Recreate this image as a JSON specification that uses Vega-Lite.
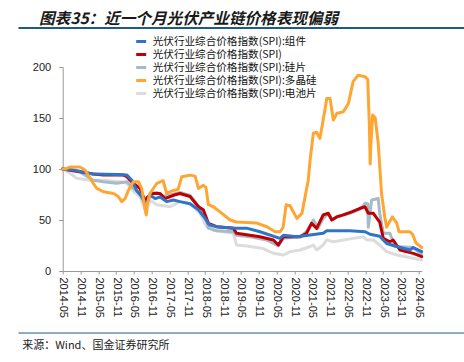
{
"$schema": "https://vega.github.io/schema/vega-lite/v6.json",
"width": 359, "height": 204,
"autosize": {"type": "none"},
"padding": {"left": 62.7, "top": 67, "right": 42.3, "bottom": 91},
"background": "white",
"config": {"view": {"stroke": null}},
"title": {"text": "图表35：近一个月光伏产业链价格表现偏弱", "anchor": "start", "frame": "group", "font": "Noto Sans CJK SC", "fontSize": 15.6, "fontStyle": "italic", "fontWeight": "bold", "color": "#1a1a1a", "dx": -23.7, "dy": 13, "offset": 0, "baseline": "alphabetic"},
"datasets": {
"zj": [
{"t":"2014-05-01","v":100},{"t":"2014-08-19","v":99},{"t":"2015-03-10","v":95},{"t":"2015-11-07","v":94.5},{"t":"2016-02-19","v":94},{"t":"2016-04-10","v":89},{"t":"2016-05-28","v":79},{"t":"2016-07-19","v":73},{"t":"2016-09-04","v":65},{"t":"2016-10-13","v":74.5},{"t":"2016-12-04","v":71},{"t":"2017-01-25","v":72.6},{"t":"2017-04-01","v":68},{"t":"2017-06-10","v":69.6},{"t":"2017-08-16","v":68},{"t":"2017-11-28","v":66},{"t":"2018-02-22","v":60},{"t":"2018-05-01","v":51.6},{"t":"2018-06-19","v":45},{"t":"2018-08-28","v":43.4},{"t":"2019-03-04","v":42},{"t":"2019-07-01","v":42},{"t":"2019-11-16","v":38.5},{"t":"2020-06-07","v":32},{"t":"2020-07-13","v":35},{"t":"2020-11-28","v":33.6},{"t":"2021-03-25","v":35},{"t":"2021-08-25","v":37},{"t":"2021-10-01","v":39.5},{"t":"2022-05-25","v":39.5},{"t":"2022-10-28","v":38.5},{"t":"2022-12-19","v":36},{"t":"2023-03-28","v":34},{"t":"2023-06-07","v":27},{"t":"2023-09-19","v":24},{"t":"2024-02-01","v":20.6},{"t":"2024-03-07","v":23},{"t":"2024-06-01","v":19}],
"spi": [
{"t":"2014-05-01","v":100},{"t":"2014-10-25","v":97.4},{"t":"2015-03-10","v":95},{"t":"2015-06-22","v":94},{"t":"2016-01-13","v":94},{"t":"2016-02-19","v":92.5},{"t":"2016-03-22","v":89},{"t":"2016-04-25","v":86},{"t":"2016-07-01","v":81},{"t":"2016-09-04","v":66},{"t":"2016-09-13","v":72},{"t":"2016-11-01","v":76},{"t":"2017-01-25","v":76},{"t":"2017-03-16","v":71},{"t":"2017-06-19","v":74.5},{"t":"2017-08-16","v":76},{"t":"2017-11-28","v":73},{"t":"2018-02-22","v":63},{"t":"2018-04-13","v":60},{"t":"2018-06-04","v":46.7},{"t":"2018-08-28","v":43.4},{"t":"2019-02-16","v":41.8},{"t":"2019-03-19","v":37},{"t":"2019-11-16","v":33.6},{"t":"2020-04-01","v":30.4},{"t":"2020-05-22","v":25.5},{"t":"2020-07-13","v":33.6},{"t":"2021-01-01","v":33.6},{"t":"2021-03-07","v":37},{"t":"2021-04-28","v":46.7},{"t":"2021-06-19","v":41.8},{"t":"2021-08-25","v":55},{"t":"2021-10-16","v":56.6},{"t":"2021-11-22","v":50},{"t":"2022-01-10","v":53},{"t":"2022-03-19","v":55},{"t":"2022-06-13","v":58},{"t":"2022-09-07","v":61.5},{"t":"2022-10-28","v":63},{"t":"2022-12-01","v":56.6},{"t":"2023-01-22","v":56.6},{"t":"2023-03-28","v":48},{"t":"2023-05-04","v":32},{"t":"2023-07-10","v":28.7},{"t":"2023-08-13","v":30.4},{"t":"2023-10-22","v":20.6},{"t":"2024-03-07","v":17.3},{"t":"2024-06-01","v":14}],
"gp": [
{"t":"2014-05-01","v":100},{"t":"2014-10-25","v":97},{"t":"2015-03-10","v":89},{"t":"2015-06-22","v":87.5},{"t":"2015-11-07","v":86},{"t":"2016-02-19","v":87.5},{"t":"2016-04-25","v":81},{"t":"2016-07-01","v":76},{"t":"2016-09-04","v":63},{"t":"2016-10-13","v":76},{"t":"2016-12-22","v":77},{"t":"2017-02-28","v":73},{"t":"2017-05-07","v":74.5},{"t":"2017-08-16","v":77},{"t":"2017-11-28","v":74},{"t":"2018-03-10","v":61.5},{"t":"2018-05-01","v":53},{"t":"2018-06-04","v":42},{"t":"2018-08-28","v":39.5},{"t":"2019-02-16","v":38.5},{"t":"2019-03-19","v":35},{"t":"2019-08-04","v":33.6},{"t":"2020-01-25","v":30.4},{"t":"2020-05-22","v":24.5},{"t":"2020-07-13","v":32},{"t":"2021-01-01","v":33.6},{"t":"2021-03-07","v":38.5},{"t":"2021-05-16","v":50},{"t":"2021-07-04","v":42},{"t":"2021-08-25","v":51.6},{"t":"2021-10-16","v":56.6},{"t":"2021-11-22","v":50},{"t":"2022-01-10","v":53},{"t":"2022-05-25","v":56.6},{"t":"2022-09-25","v":61.5},{"t":"2022-10-28","v":66.4},{"t":"2022-11-25","v":66},{"t":"2022-12-01","v":43},{"t":"2023-01-04","v":69.6},{"t":"2023-03-13","v":71},{"t":"2023-03-28","v":56.6},{"t":"2023-05-04","v":37},{"t":"2023-07-10","v":37},{"t":"2023-09-01","v":24},{"t":"2024-03-07","v":23},{"t":"2024-06-01","v":16}],
"dj": [
{"t":"2014-05-01","v":100},{"t":"2014-06-01","v":100},{"t":"2014-07-15","v":102},{"t":"2014-10-25","v":102},{"t":"2014-12-16","v":99},{"t":"2015-03-10","v":86},{"t":"2015-04-16","v":81},{"t":"2015-06-22","v":77.7},{"t":"2015-10-04","v":76},{"t":"2015-11-22","v":73},{"t":"2015-12-28","v":68},{"t":"2016-02-01","v":71},{"t":"2016-03-04","v":79},{"t":"2016-04-25","v":87.5},{"t":"2016-06-16","v":87.5},{"t":"2016-07-19","v":81},{"t":"2016-08-07","v":70},{"t":"2016-09-04","v":55},{"t":"2016-09-13","v":65},{"t":"2016-10-13","v":76},{"t":"2016-12-22","v":86},{"t":"2017-02-25","v":88.5},{"t":"2017-04-01","v":76},{"t":"2017-06-10","v":79},{"t":"2017-07-28","v":80},{"t":"2017-09-04","v":92.5},{"t":"2017-11-28","v":94},{"t":"2018-01-19","v":93},{"t":"2018-02-22","v":81},{"t":"2018-04-13","v":84},{"t":"2018-05-10","v":82},{"t":"2018-06-04","v":65},{"t":"2018-07-25","v":63},{"t":"2018-10-01","v":58},{"t":"2019-01-13","v":50},{"t":"2019-03-19","v":48},{"t":"2019-10-13","v":47},{"t":"2020-01-25","v":43.4},{"t":"2020-04-19","v":38.5},{"t":"2020-06-10","v":38.5},{"t":"2020-07-10","v":43},{"t":"2020-08-10","v":65},{"t":"2020-09-19","v":64},{"t":"2020-11-28","v":51.6},{"t":"2021-01-19","v":56.5},{"t":"2021-03-25","v":89},{"t":"2021-04-13","v":109},{"t":"2021-05-16","v":135},{"t":"2021-06-19","v":136},{"t":"2021-07-22","v":130},{"t":"2021-08-25","v":148},{"t":"2021-10-01","v":169},{"t":"2021-11-04","v":169},{"t":"2021-12-07","v":148},{"t":"2022-01-13","v":154.6},{"t":"2022-03-19","v":156},{"t":"2022-05-10","v":164},{"t":"2022-06-28","v":185.6},{"t":"2022-08-19","v":192},{"t":"2022-10-28","v":190.5},{"t":"2022-11-25","v":188},{"t":"2022-12-13","v":140},{"t":"2022-12-20","v":105},{"t":"2022-12-28","v":125},{"t":"2023-01-15","v":153},{"t":"2023-02-10","v":150},{"t":"2023-03-13","v":125},{"t":"2023-04-16","v":76},{"t":"2023-05-19","v":53},{"t":"2023-06-07","v":43},{"t":"2023-06-25","v":46},{"t":"2023-08-05","v":53},{"t":"2023-09-19","v":47},{"t":"2023-10-12","v":38.5},{"t":"2024-02-01","v":38.5},{"t":"2024-02-28","v":36},{"t":"2024-04-03","v":27.5},{"t":"2024-06-01","v":23}],
"dc": [
{"t":"2014-05-01","v":100},{"t":"2014-07-16","v":95.8},{"t":"2014-09-22","v":91},{"t":"2015-02-07","v":89},{"t":"2015-06-22","v":89},{"t":"2015-12-10","v":87.5},{"t":"2016-02-19","v":86},{"t":"2016-04-25","v":78},{"t":"2016-07-01","v":73},{"t":"2016-09-04","v":56.6},{"t":"2016-10-13","v":69.6},{"t":"2016-12-22","v":65},{"t":"2017-05-07","v":63},{"t":"2017-08-16","v":68},{"t":"2017-11-28","v":66},{"t":"2018-03-10","v":56.6},{"t":"2018-05-16","v":43.5},{"t":"2018-07-25","v":40},{"t":"2019-02-16","v":37},{"t":"2019-03-19","v":25.5},{"t":"2019-07-01","v":24.5},{"t":"2019-12-19","v":22},{"t":"2020-04-01","v":17.4},{"t":"2020-07-13","v":15.7},{"t":"2020-09-19","v":19},{"t":"2021-01-01","v":20.6},{"t":"2021-04-13","v":24},{"t":"2021-05-16","v":25.5},{"t":"2021-06-19","v":20.6},{"t":"2021-08-25","v":25.5},{"t":"2021-10-01","v":30.4},{"t":"2021-12-07","v":28.7},{"t":"2022-06-28","v":32},{"t":"2022-10-10","v":33.6},{"t":"2022-11-16","v":30.4},{"t":"2023-01-22","v":30.4},{"t":"2023-03-28","v":25.5},{"t":"2023-06-07","v":19},{"t":"2023-09-19","v":15.7},{"t":"2024-06-01","v":10.8}],
"deco": [
{"a":"2013-02-01","b":"2025-08-10","y":238.2,"k":"top"},
{"a":"2013-02-01","b":"2025-08-10","y":-60.8,"k":"bottom"}]
},
"encoding": {
"x": {"field": "t", "type": "temporal",
 "scale": {"type": "utc", "domain": [{"year":2014,"month":5,"date":1,"utc":true},{"year":2024,"month":6,"date":1,"utc":true}]},
 "axis": {"values": [
  {"year":2014,"month":5,"date":1,"utc":true},{"year":2014,"month":11,"date":1,"utc":true},
  {"year":2015,"month":5,"date":1,"utc":true},{"year":2015,"month":11,"date":1,"utc":true},
  {"year":2016,"month":5,"date":1,"utc":true},{"year":2016,"month":11,"date":1,"utc":true},
  {"year":2017,"month":5,"date":1,"utc":true},{"year":2017,"month":11,"date":1,"utc":true},
  {"year":2018,"month":5,"date":1,"utc":true},{"year":2018,"month":11,"date":1,"utc":true},
  {"year":2019,"month":5,"date":1,"utc":true},{"year":2019,"month":11,"date":1,"utc":true},
  {"year":2020,"month":5,"date":1,"utc":true},{"year":2020,"month":11,"date":1,"utc":true},
  {"year":2021,"month":5,"date":1,"utc":true},{"year":2021,"month":11,"date":1,"utc":true},
  {"year":2022,"month":5,"date":1,"utc":true},{"year":2022,"month":11,"date":1,"utc":true},
  {"year":2023,"month":5,"date":1,"utc":true},{"year":2023,"month":11,"date":1,"utc":true},
  {"year":2024,"month":5,"date":1,"utc":true}],
  "labelExpr": "utcFormat(datum.value, '%Y-%m')", "labelAngle": 90, "labelAlign": "left", "labelBaseline": "middle",
  "labelFont": "Liberation Sans", "labelFontSize": 11, "labelColor": "#222", "labelPadding": 3, "labelOverlap": false,
  "tickSize": 3, "tickColor": "#999", "domainColor": "#999", "grid": false,
  "titleFont": "Noto Sans CJK SC", "titleFontSize": 11, "titleFontWeight": "normal", "titleColor": "#222",
  "titleAnchor": "start", "titleAlign": "left", "titleBaseline": "middle", "titleX": -41, "titleY": 74},
 "title": "来源：Wind、国金证券研究所"},
"y": {"field": "v", "type": "quantitative",
 "scale": {"domain": [0, 200], "nice": false},
 "axis": {"values": [0, 50, 100, 150, 200], "grid": false, "title": null, "labelFont": "Liberation Sans", "labelFontSize": 11, "labelColor": "#222", "labelPadding": 8, "tickSize": 4, "tickColor": "#999", "domainColor": "#999"}}
},
"layer": [
{"data": {"name": "dc"}, "mark": {"type": "line", "strokeWidth": 3, "strokeJoin": "round", "strokeCap": "round"},
 "encoding": {"color": {"datum": "光伏行业综合价格指数(SPI):电池片", "type": "nominal",
  "scale": {"domain": ["光伏行业综合价格指数(SPI):组件","光伏行业综合价格指数(SPI)","光伏行业综合价格指数(SPI):硅片","光伏行业综合价格指数(SPI):多晶硅","光伏行业综合价格指数(SPI):电池片"], "range": ["#2f74c8","#c00000","#a7bac9","#ffa532","#dcdcdc"]},
  "legend": {"orient": "none", "legendX": 72, "legendY": -32, "title": null, "padding": 0, "symbolType": "stroke", "symbolStrokeWidth": 3, "symbolSize": 100, "labelFont": "Noto Sans CJK SC", "labelFontSize": 10.6, "labelColor": "#111", "labelOffset": 5, "rowPadding": 0, "labelLimit": 400}}}},
{"data": {"name": "gp"}, "mark": {"type": "line", "strokeWidth": 3, "strokeJoin": "round", "strokeCap": "round"},
 "encoding": {"color": {"datum": "光伏行业综合价格指数(SPI):硅片", "type": "nominal"}}},
{"data": {"name": "spi"}, "mark": {"type": "line", "strokeWidth": 3, "strokeJoin": "round", "strokeCap": "round"},
 "encoding": {"color": {"datum": "光伏行业综合价格指数(SPI)", "type": "nominal"}}},
{"data": {"name": "zj"}, "mark": {"type": "line", "strokeWidth": 3, "strokeJoin": "round", "strokeCap": "round"},
 "encoding": {"color": {"datum": "光伏行业综合价格指数(SPI):组件", "type": "nominal"}}},
{"data": {"name": "dj"}, "mark": {"type": "line", "strokeWidth": 3, "strokeJoin": "round", "strokeCap": "round"},
 "encoding": {"color": {"datum": "光伏行业综合价格指数(SPI):多晶硅", "type": "nominal"}}},
{"data": {"name": "deco"}, "mark": {"type": "rule", "clip": false},
 "encoding": {"x": {"field": "a", "type": "temporal"}, "x2": {"field": "b"}, "y": {"field": "y", "type": "quantitative"},
  "strokeWidth": {"field": "k", "type": "nominal", "scale": {"domain": ["top","bottom"], "range": [2, 1]}, "legend": null},
  "color": {"value": "#1f5a86"}}}
]
}
